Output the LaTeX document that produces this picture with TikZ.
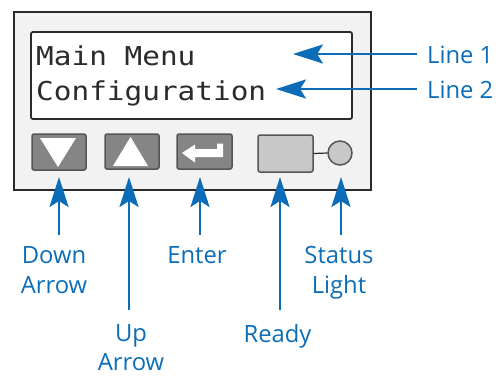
\documentclass[tikz,border=0pt]{standalone}
\usepackage{fontspec}
\setmainfont{Open Sans}
\newfontfamily\lcdfont[FakeStretch=1.13]{DejaVu Sans Mono}
\usetikzlibrary{arrows.meta}
\definecolor{callblue}{HTML}{0B6DB7}
\definecolor{panelbg}{HTML}{F2F2F2}
\definecolor{edgedark}{HTML}{2B2B2B}
\definecolor{btndark}{HTML}{858585}
\definecolor{btnlight}{HTML}{C8C8C8}
\tikzset{
  panel/.style={draw=edgedark, fill=panelbg, line width=2bp},
  lcdbox/.style={draw=edgedark, fill=white, line width=1.8bp, rounded corners=2bp},
  keybtn/.style={draw=edgedark!80, fill=btndark, line width=1.5bp, rounded corners=2bp},
  readybtn/.style={draw=edgedark!80, fill=btnlight, line width=1.5bp, rounded corners=2bp},
  glyph/.style={fill=white, draw=none},
  callout/.style={draw=callblue, line width=2.6bp, -{Stealth[length=30bp, width=19bp, inset=6bp]}},
  lcdtext/.style={font=\lcdfont\fontsize{26bp}{30bp}\selectfont, text=edgedark, inner sep=0pt, anchor=base west},
  lbl/.style={font=\fontsize{23.8bp}{30bp}\selectfont, text=callblue, inner sep=0pt, anchor=base},
  lbltight/.style={lbl, font=\fontsize{23.8bp}{29bp}\selectfont},
}
\newcommand{\twoline}[2]{\begin{tabular}[t]{@{}c@{}}#1\\#2\end{tabular}}
\begin{document}
\begin{tikzpicture}[x=1bp, y=-1bp]
\useasboundingbox (0,0) rectangle (501,375);
% panel
\draw[panel] (14,12) rectangle (371,190);
\draw[lcdbox] (31,32) rectangle (352,119);
\node[lcdtext] (line1) at (36,65) {Main Menu};
\node[lcdtext] (line2) at (36,100) {Configuration};
% buttons
\draw[keybtn] (32,134) rectangle (86,170);
\fill[glyph] (40,138) -- (76,138) -- (58,167) -- cycle;
\draw[keybtn] (105,134) rectangle (159,169);
\fill[glyph] (113,166) -- (148,166) -- (130.5,137) -- cycle;
\draw[keybtn] (177,134) rectangle (232,169);
\fill[glyph] (182,153) -- (195,144.5) -- (195,149) -- (217,149) -- (217,143.5) -- (223,143.5) -- (223,157) -- (195,157) -- (195,162.5) -- cycle;
\node[readybtn, minimum width=55bp, minimum height=37bp, inner sep=0pt] (ready) at (285.5,153.5) {};
\node[readybtn, circle, minimum size=24bp, inner sep=0pt, rounded corners=0pt] (status) at (340,153) {};
\draw[edgedark, line width=1.2bp] (ready.east) -- (status.west);
% bottom labels
\node[lbl] (downlbl) at (54,263) {\twoline{Down}{Arrow}};
\node[lbltight] (uplbl) at (131,341) {\twoline{Up}{Arrow}};
\node[lbl] (enterlbl) at (197,263) {Enter};
\node[lbl] (readylbl) at (277.5,342) {Ready};
\node[lbl] (statuslbl) at (339,263) {\twoline{Status}{Light}};
% right labels
\node[lbl, anchor=base west] (l1lbl) at (427,63) {Line 1};
\node[lbl, anchor=base west] (l2lbl) at (427,98) {Line 2};
% callout end points
\coordinate (downS) at (59,235);   \coordinate (downT) at (59,177);
\coordinate (upS) at (129,310);    \coordinate (upT) at (129,177);
\coordinate (entS) at (200,235);   \coordinate (entT) at (200,177);
\coordinate (rdyS) at (280,310);   \coordinate (rdyT) at (280,177);
\coordinate (stS) at (341,235);    \coordinate (stT) at (341,177);
\coordinate (l1S) at (417,54);     \coordinate (l1T) at (293,54);
\coordinate (l2S) at (417,89);     \coordinate (l2T) at (276,89);
\draw[callout] (downS) -- (downT);
\draw[callout] (upS) -- (upT);
\draw[callout] (entS) -- (entT);
\draw[callout] (rdyS) -- (rdyT);
\draw[callout] (stS) -- (stT);
\draw[callout] (l1S) -- (l1T);
\draw[callout] (l2S) -- (l2T);
\end{tikzpicture}
\end{document}
